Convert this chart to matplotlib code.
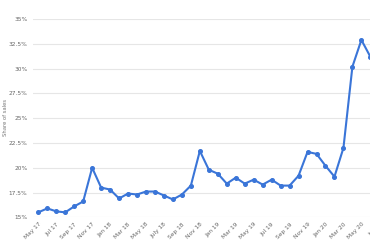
import matplotlib
matplotlib.use("Agg")
import matplotlib.pyplot as plt

# Monatswerte Mai 2017 bis Juni 2020 (Anteil in %)
months = ["May 17", "Jun 17", "Jul 17", "Aug 17", "Sep 17", "Oct 17", "Nov 17", "Dec 17",
          "Jan 18", "Feb 18", "Mar 18", "Apr 18", "May 18", "Jun 18", "July 18", "Aug 18",
          "Sep 18", "Oct 18", "Nov 18", "Dec 18", "Jan 19", "Feb 19", "Mar 19", "Apr 19",
          "May 19", "Jun 19", "Jul 19", "Aug 19", "Sep 19", "Oct 19", "Nov 19", "Dec 19",
          "Jan 20", "Feb 20", "Mar 20", "Apr 20", "May 20", "Jun 20"]
share = [15.5, 15.9, 15.6, 15.5, 16.1, 16.6, 20.0, 18.0, 17.8, 16.9, 17.4, 17.3,
         17.6, 17.6, 17.2, 16.8, 17.3, 18.2, 21.7, 19.8, 19.4, 18.4, 19.0, 18.4,
         18.8, 18.3, 18.8, 18.2, 18.2, 19.2, 21.6, 21.4, 20.2, 19.1, 22.0, 30.2,
         32.9, 31.2]
tick_labels = ["May 17", "Jul 17", "Sep 17", "Nov 17", "Jan 18", "Mar 18", "May 18",
               "July 18", "Sep 18", "Nov 18", "Jan 19", "Mar 19", "May 19", "Jul 19",
               "Sep 19", "Nov 19", "Jan 20", "Mar 20", "May 20", "Jul 20"]
y_ticks = [15, 17.5, 20, 22.5, 25, 27.5, 30, 32.5, 35]

fig = plt.figure(figsize=(3.7, 2.45), dpi=100)
# Achse ragt rechts ueber das Bild hinaus (wie im Original abgeschnitten)
ax = fig.add_axes([0.089, 0.113, 0.992, 0.809])

x = list(range(len(share)))
ax.plot(x, share, color="#3a75d8", linewidth=1.5, marker="o", markersize=2.6,
        zorder=3, clip_on=False)

ax.set_xlim(-0.6, 40.3)
ax.set_ylim(15, 35)
ax.set_yticks(y_ticks)
ax.set_yticklabels([("%g" % v) + "%" for v in y_ticks])
ax.set_xticks(range(0, 2 * len(tick_labels), 2))
ax.set_xticklabels(tick_labels, rotation=45, ha="right", rotation_mode="anchor")

ax.grid(axis="y", color="#e6e6e6", linewidth=0.8)
ax.set_axisbelow(True)
for s in ax.spines.values():
    s.set_visible(False)
ax.tick_params(axis="both", length=0, labelsize=4.2, labelcolor="#666666")
ax.tick_params(axis="y", pad=4)
ax.tick_params(axis="x", pad=3)

fig.text(0.014, 0.52, "Share of sales", rotation=90, fontsize=3.8, color="#777777",
         ha="center", va="center")

fig.savefig("out.png", dpi=100)
